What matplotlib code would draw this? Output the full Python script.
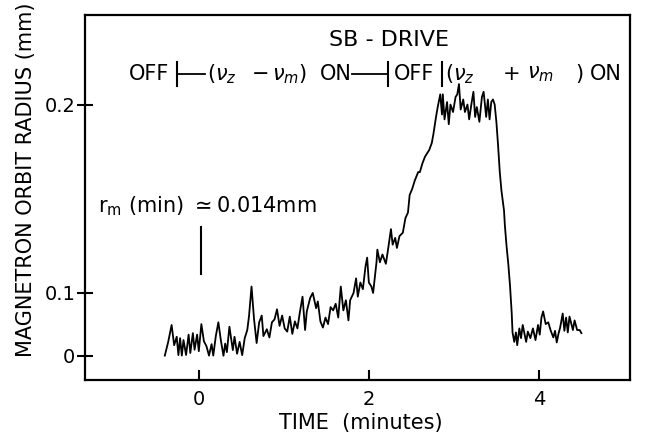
import numpy as np
import matplotlib
matplotlib.use("Agg")
import matplotlib.pyplot as plt

plt.rcParams['font.family'] = ['DejaVu Sans']
plt.rcParams['mathtext.fontset'] = 'dejavusans'

# trace: time (minutes) and magnetron orbit radius (mm)
t_min = [-0.40, -0.36, -0.32, -0.29, -0.26, -0.24, -0.22, -0.20, -0.18, -0.15,
         -0.12, -0.10, -0.07, -0.05, -0.02, 0.00, 0.03, 0.06, 0.09, 0.12,
         0.15, 0.17, 0.20, 0.23, 0.26, 0.29, 0.31, 0.33, 0.36, 0.40,
         0.42, 0.45, 0.48, 0.51, 0.54, 0.57, 0.59, 0.62, 0.65, 0.68,
         0.71, 0.74, 0.76, 0.80, 0.83, 0.86, 0.89, 0.92, 0.95, 0.98,
         1.01, 1.04, 1.07, 1.10, 1.13, 1.16, 1.19, 1.22, 1.25, 1.27,
         1.31, 1.34, 1.38, 1.40, 1.43, 1.46, 1.49, 1.52, 1.55, 1.58,
         1.61, 1.64, 1.67, 1.70, 1.73, 1.76, 1.78, 1.82, 1.85, 1.87,
         1.90, 1.93, 1.96, 1.98, 2.00, 2.03, 2.05, 2.09, 2.10, 2.13,
         2.16, 2.20, 2.22, 2.26, 2.28, 2.31, 2.33, 2.36, 2.40, 2.43,
         2.46, 2.48, 2.51, 2.54, 2.58, 2.60, 2.63, 2.66, 2.71, 2.74,
         2.76, 2.79, 2.81, 2.84, 2.86, 2.87, 2.89, 2.92, 2.94, 2.96,
         2.99, 3.02, 3.04, 3.06, 3.08, 3.11, 3.13, 3.16, 3.18, 3.21,
         3.23, 3.25, 3.27, 3.30, 3.33, 3.35, 3.38, 3.40, 3.42, 3.44,
         3.46, 3.48, 3.50, 3.52, 3.54, 3.56, 3.59, 3.60, 3.62, 3.64,
         3.66, 3.68, 3.69, 3.71, 3.73, 3.745, 3.77, 3.79, 3.81, 3.85,
         3.87, 3.90, 3.93, 3.96, 3.99, 4.01, 4.03, 4.05, 4.08, 4.11,
         4.14, 4.17, 4.19, 4.21, 4.23, 4.25, 4.28, 4.30, 4.32, 4.34,
         4.36, 4.40, 4.42, 4.45, 4.48, 4.50]
radius = [0.005, 0.047, 0.070, 0.041, 0.055, 0.010, 0.053, 0.005, 0.050, 0.011,
          0.058, 0.021, 0.060, 0.031, 0.058, 0.027, 0.071, 0.048, 0.039, 0.005,
          0.043, 0.005, 0.056, 0.073, 0.049, 0.000, 0.044, 0.024, 0.068, 0.030,
          0.055, 0.018, 0.047, 0.010, 0.053, 0.064, 0.079, 0.105, 0.076, 0.045,
          0.073, 0.080, 0.056, 0.065, 0.054, 0.073, 0.076, 0.086, 0.069, 0.080,
          0.066, 0.062, 0.079, 0.059, 0.074, 0.066, 0.084, 0.097, 0.064, 0.084,
          0.096, 0.100, 0.087, 0.093, 0.074, 0.067, 0.078, 0.071, 0.088, 0.085,
          0.091, 0.078, 0.105, 0.085, 0.094, 0.075, 0.094, 0.100, 0.111, 0.097,
          0.108, 0.103, 0.119, 0.125, 0.108, 0.105, 0.100, 0.122, 0.130, 0.122,
          0.127, 0.121, 0.128, 0.142, 0.133, 0.137, 0.131, 0.138, 0.140, 0.148,
          0.151, 0.160, 0.163, 0.167, 0.171, 0.171, 0.175, 0.178, 0.181, 0.184,
          0.188, 0.195, 0.199, 0.204, 0.196, 0.204, 0.194, 0.201, 0.192, 0.200,
          0.197, 0.203, 0.204, 0.208, 0.198, 0.202, 0.197, 0.200, 0.194, 0.201,
          0.205, 0.195, 0.199, 0.193, 0.203, 0.205, 0.195, 0.202, 0.194, 0.201,
          0.202, 0.200, 0.193, 0.183, 0.171, 0.162, 0.152, 0.144, 0.132, 0.121,
          0.106, 0.083, 0.061, 0.047, 0.061, 0.041, 0.066, 0.053, 0.070, 0.047,
          0.062, 0.053, 0.066, 0.050, 0.070, 0.058, 0.078, 0.084, 0.071, 0.073,
          0.063, 0.054, 0.063, 0.046, 0.059, 0.067, 0.082, 0.063, 0.078, 0.061,
          0.079, 0.064, 0.075, 0.064, 0.064, 0.060]

x_ticks = [0, 2, 4]
y_ticks = [0, 0.1, 0.2]
y_ticklabels = ['0', '0.1', '0.2']

# the recorder scale is quadratic in radius
def fwd(r):
    r = np.asarray(r, dtype=float)
    return np.sign(r) * r ** 2

def inv(s):
    s = np.asarray(s, dtype=float)
    return np.sign(s) * np.sqrt(np.abs(s))

fig = plt.figure(figsize=(6.48, 4.48), dpi=100)
ax = fig.add_axes([0.131, 0.152, 0.841, 0.815])
ax.set_yscale('function', functions=(fwd, inv))

ax.plot(t_min, radius, color='black', lw=1.3)
ax.plot([0.03, 0.03], [0.114, 0.143], color='black', lw=1.5)

ax.set_xlim(-1.34, 5.07)
ax.set_ylim(-0.062, 0.233)
ax.set_xticks(x_ticks)
ax.set_yticks(y_ticks)
ax.set_yticklabels(y_ticklabels)
ax.tick_params(axis='x', direction='in', length=7, width=1.5, pad=7, labelsize=14)
ax.tick_params(axis='y', direction='inout', length=12, width=1.5, pad=1, labelsize=14)
for s in ax.spines.values():
    s.set_linewidth(1.6)

ax.set_xlabel('TIME  (minutes)', fontsize=15)
ax.set_ylabel('MAGNETRON ORBIT RADIUS (mm)', fontsize=15)
ax.xaxis.set_label_coords(0.506, -0.09)
ax.yaxis.set_label_coords(-0.09, 0.548)

tr = ax.transAxes
fs = 15
ax.text(0.558, 0.932, 'SB - DRIVE', transform=tr, ha='center', va='center', fontsize=16)
yl = 0.838
ax.text(0.154, yl, 'OFF', transform=tr, ha='right', va='center', fontsize=fs)
ax.plot([0.169, 0.169], [0.805, 0.870], transform=tr, color='black', lw=1.5)
ax.plot([0.169, 0.220], [yl, yl], transform=tr, color='black', lw=1.3)
ax.text(0.224, yl, r'$(\nu_z$', transform=tr, ha='left', va='center', fontsize=fs)
ax.text(0.306, yl, '\u2212', transform=tr, ha='left', va='center', fontsize=fs)
ax.text(0.343, yl, r'$\nu_m)$', transform=tr, ha='left', va='center', fontsize=fs)
ax.text(0.431, yl, 'ON', transform=tr, ha='left', va='center', fontsize=fs)
ax.plot([0.490, 0.556], [yl, yl], transform=tr, color='black', lw=1.3)
ax.plot([0.556, 0.556], [0.805, 0.870], transform=tr, color='black', lw=1.5)
ax.text(0.567, yl, 'OFF', transform=tr, ha='left', va='center', fontsize=fs)
ax.plot([0.655, 0.655], [0.805, 0.870], transform=tr, color='black', lw=1.5)
ax.text(0.661, yl, r'$(\nu_z$', transform=tr, ha='left', va='center', fontsize=fs)
ax.text(0.767, yl, '+', transform=tr, ha='left', va='center', fontsize=fs)
ax.text(0.811, yl, r'$\nu_m$', transform=tr, ha='left', va='center', fontsize=fs)
ax.text(0.899, yl, ')', transform=tr, ha='left', va='center', fontsize=fs)
ax.text(0.927, yl, 'ON', transform=tr, ha='left', va='center', fontsize=fs)

ax.text(0.024, 0.477, r'$\mathregular{r_m}$ (min) $\simeq$0.014mm', transform=tr,
        ha='left', va='center', fontsize=fs)

fig.savefig('out.png', dpi=100)
